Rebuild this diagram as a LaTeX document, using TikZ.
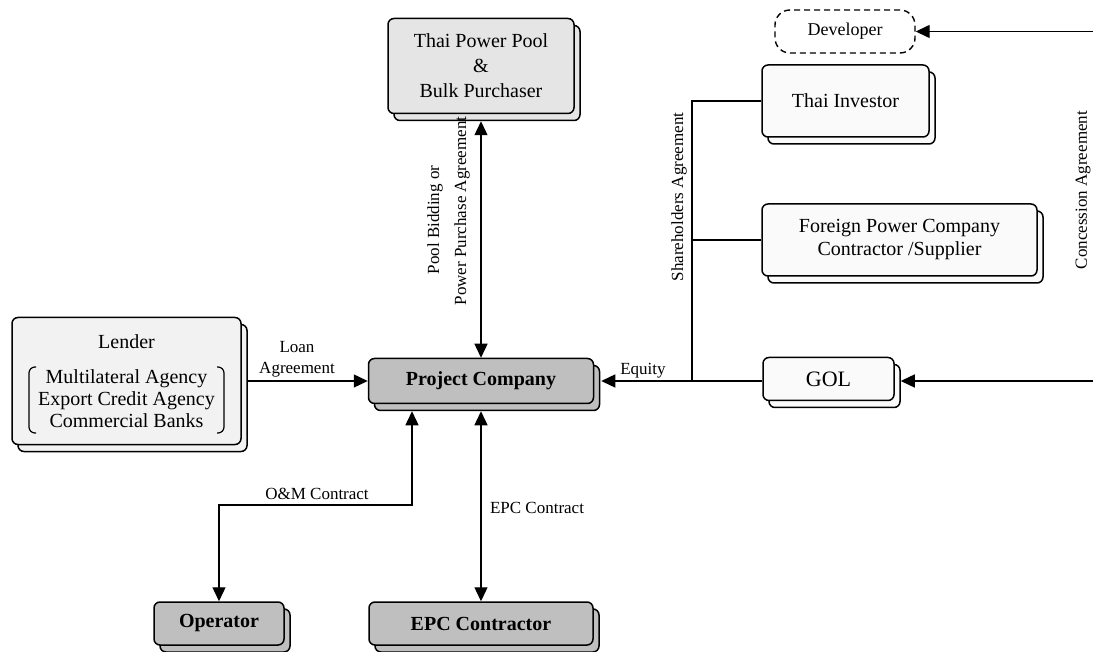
\documentclass[tikz,border=0pt]{standalone}
\usepackage{fontspec}
\setmainfont{Liberation Serif}
\usetikzlibrary{arrows.meta,shadows}
\tikzset{
  box/.style={draw, line width=1.5pt, rounded corners=6pt, inner sep=0pt, align=center,
    font=\fontsize{20}{24}\selectfont},
  shd/.style={copy shadow={shadow xshift=6pt, shadow yshift=-7pt, draw=black, fill=#1, line width=1.5pt}},
  lightbox/.style={box, fill=gray!4, shd=gray!4},
  midbox/.style={box, fill=gray!20, shd=gray!20},
  lenderbox/.style={box, fill=gray!10, shd=gray!10},
  darkbox/.style={box, fill=gray!50, shd=gray!50, font=\fontsize{20}{24}\selectfont\bfseries},
  conn/.style={line width=1.4pt},
  arr/.style={conn, -{Triangle[length=14pt,width=13pt]}},
  darr/.style={conn, {Triangle[length=14pt,width=13pt]}-{Triangle[length=14pt,width=13pt]}},
  lbl/.style={font=\fontsize{17}{21}\selectfont, inner sep=0pt, align=center},
}
\begin{document}
\begin{tikzpicture}[x=1pt,y=-1pt]
\useasboundingbox (0,0) rectangle (1093,652);
% boxes
\node[midbox, minimum width=186pt, minimum height=95pt, font=\fontsize{20}{25}\selectfont] (tpp) at (481,66) {Thai Power Pool\\\&\\Bulk Purchaser};
\node[draw, dashed, dash pattern=on 6pt off 4pt, line width=1.4pt, rounded corners=15pt, fill=white,
  minimum width=140pt, minimum height=43pt, inner sep=0pt, font=\fontsize{18}{20}\selectfont] (dev) at (845,31.5) {Developer};
\node[lightbox, minimum width=167pt, minimum height=72pt] (ti) at (845.5,101) {Thai Investor};
\node[lightbox, minimum width=275pt, minimum height=72pt, font=\fontsize{20}{23}\selectfont] (fp) at (899.5,240) {Foreign Power Company\\Contractor /Supplier};
\node[lenderbox, minimum width=229pt, minimum height=127pt, font=\fontsize{20}{22}\selectfont] (lender) at (126.5,381) {Lender\\[13pt]Multilateral Agency\\Export Credit Agency\\Commercial Banks};
\node[darkbox, minimum width=225pt, minimum height=45pt] (pc) at (481,381) {Project Company};
\node[lightbox, minimum width=131pt, minimum height=43pt, font=\fontsize{22}{24}\selectfont] (gol) at (828.5,379) {GOL};
\node[darkbox, minimum width=130pt, minimum height=43pt] (op) at (219,623.5) {Operator};
\node[darkbox, minimum width=224pt, minimum height=43pt] (epc) at (481,623.5) {EPC Contractor};
% lender brackets
\draw[line width=1.2pt, rounded corners=6pt] (36,367) -- (29,367) -- (29,433) -- (36,433);
\draw[line width=1.2pt, rounded corners=6pt] (217,367) -- (224,367) -- (224,433) -- (217,433);
% coordinates
\coordinate (om) at (219,505);
\coordinate (shtop) at (692,101);
\coordinate (shbot) at (692,381);
\coordinate (reA) at (1093,31.5);
\coordinate (reB) at (1093,381);
% connectors
\draw[darr] ([yshift=-7pt]tpp.south) -- (pc.north);
\draw[arr] ([xshift=6pt]lender.east) -- (pc.west);
\draw[arr] (gol.west |- shbot) -- ([xshift=7pt]pc.east |- shbot);
\draw[conn] (ti.west) -| (shbot);
\draw[conn] (fp.west) -- (fp.west -| shtop);
\draw[darr] ([xshift=-69pt,yshift=-7pt]pc.south) |- (om) -- (op.north);
\draw[darr] ([yshift=-7pt]pc.south) -- (epc.north);
\draw[arr] (reA) -- (dev.east);
\draw[arr] (reB) -- ([xshift=6pt]gol.east |- reB);
% labels
\node[lbl, anchor=south] (lbloan) at (297,377) {Loan\\Agreement};
\node[lbl] (lbeq) at (643,371) {Equity};
\node[lbl] (lbom) at (317,494) {O\&M Contract};
\node[lbl] (lbepc) at (537,508) {EPC Contract};
\node[lbl, rotate=90] (lbpool) at (435,220) {Pool Bidding or};
\node[lbl, rotate=90] (lbppa) at (462,211) {Power Purchase Agreement};
\node[lbl, rotate=90] (lbsh) at (679,197) {Shareholders Agreement};
\node[lbl, rotate=90] (lbcon) at (1083,190) {Concession Agreement};
\end{tikzpicture}
\end{document}
